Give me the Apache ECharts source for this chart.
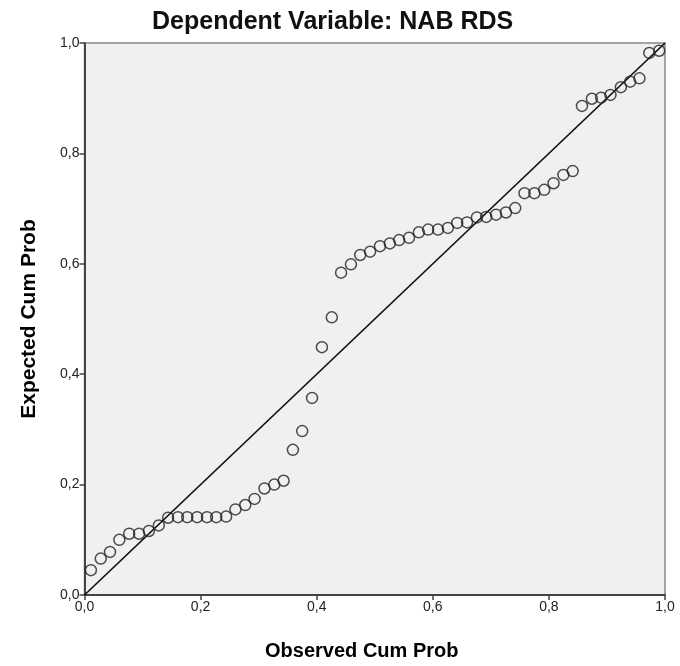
<!DOCTYPE html>
<html>
<head>
<meta charset="utf-8">
<script src="https://cdn.jsdelivr.net/npm/echarts@6/dist/echarts.min.js"></script>
<style>
  html, body { margin: 0; padding: 0; background: #fff; }
  #chart { width: 680px; height: 666px; }
</style>
</head>
<body>
<div id="chart"></div>
<script>
// observed cumulative probability (x)
const observed = [
  0.011, 0.028, 0.044, 0.060, 0.077, 0.094, 0.111, 0.128, 0.144, 0.161,
  0.177, 0.194, 0.211, 0.227, 0.244, 0.260, 0.277, 0.293, 0.310, 0.327,
  0.343, 0.359, 0.375, 0.392, 0.409, 0.426, 0.442, 0.459, 0.475, 0.492,
  0.509, 0.526, 0.542, 0.559, 0.576, 0.592, 0.609, 0.626, 0.642, 0.659,
  0.676, 0.692, 0.709, 0.726, 0.742, 0.758, 0.775, 0.792, 0.808, 0.825,
  0.841, 0.857, 0.874, 0.890, 0.906, 0.924, 0.940, 0.956, 0.973, 0.990
]
// expected cumulative probability (y)
const expected = [
  0.045, 0.066, 0.078, 0.100, 0.111, 0.111, 0.116, 0.126, 0.140, 0.141,
  0.141, 0.141, 0.141, 0.141, 0.142, 0.155, 0.163, 0.174, 0.193, 0.200,
  0.207, 0.263, 0.297, 0.357, 0.449, 0.503, 0.584, 0.599, 0.616, 0.622,
  0.632, 0.637, 0.643, 0.647, 0.657, 0.662, 0.662, 0.665, 0.674, 0.675,
  0.684, 0.685, 0.689, 0.693, 0.701, 0.728, 0.728, 0.734, 0.746, 0.761,
  0.768, 0.886, 0.899, 0.901, 0.906, 0.920, 0.930, 0.936, 0.982, 0.986
]
const refLine = [[0, 0], [1, 1]]
const axisTicks = [0, 0.2, 0.4, 0.6, 0.8, 1.0]

const points = observed.map((x, i) => [x, expected[i]])
const fmt = v => v.toFixed(1).replace('.', ',')
const font = '"Liberation Sans", Arial, sans-serif'

const chart = echarts.init(document.getElementById('chart'), null, { renderer: 'canvas' })

const axisCommon = {
  type: 'value',
  min: axisTicks[0],
  max: axisTicks[axisTicks.length - 1],
  interval: 0.2,
  nameLocation: 'middle',
  axisLine: { show: true, lineStyle: { color: '#444', width: 2 } },
  axisTick: { show: true, inside: false, length: 5, lineStyle: { color: '#444', width: 1.5 } },
  axisLabel: { formatter: fmt, fontFamily: font, fontSize: 14, color: '#222', margin: 5 },
  splitLine: { show: false }
}

const option = {
  backgroundColor: '#fff',
  animation: false,
  title: {
    text: 'Dependent Variable: NAB RDS',
    left: 152,
    top: 10,
    padding: 0,
    textStyle: { fontFamily: font, fontSize: 25, fontWeight: 'bold', color: '#111' }
  },
  grid: {
    left: 84.5,
    right: 15,
    top: 43,
    bottom: 68.5,
    show: true,
    backgroundColor: '#f0f0f0',
    borderColor: '#888',
    borderWidth: 1.5
  },
  xAxis: Object.assign({}, axisCommon, {
    name: 'Observed Cum Prob',
    nameGap: 46,
    nameTextStyle: { fontFamily: font, fontSize: 20, fontWeight: 'bold', color: '#000', padding: [0, 26, 0, 0] }
  }),
  yAxis: Object.assign({}, axisCommon, {
    name: 'Expected Cum Prob',
    nameGap: 45,
    nameTextStyle: { fontFamily: font, fontSize: 21, fontWeight: 'bold', color: '#000' }
  }),
  series: [
    {
      type: 'line',
      data: refLine,
      symbol: 'none',
      lineStyle: { color: '#111', width: 1.7 },
      silent: true,
      z: 2
    },
    {
      type: 'scatter',
      data: points,
      symbol: 'circle',
      symbolSize: 11,
      itemStyle: { color: 'rgba(0,0,0,0)', borderColor: '#222', borderWidth: 1.5 },
      z: 3
    }
  ]
}

chart.setOption(option)
</script>
</body>
</html>
